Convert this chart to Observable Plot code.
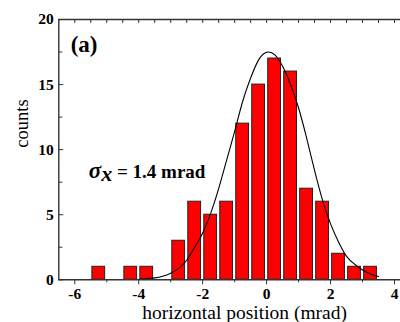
<!DOCTYPE html>
<html>
<head>
<meta charset="utf-8">
<script src="https://cdn.jsdelivr.net/npm/d3@7"></script>
<script src="https://cdn.jsdelivr.net/npm/@observablehq/plot@0.6"></script>
<style>
  html, body { margin: 0; padding: 0; background: #fff; overflow: hidden; }
  svg { display: block; }
  #chart svg, #chart svg text { font-family: "Liberation Serif", Times, "Times New Roman", "DejaVu Serif", serif !important; }
</style>
</head>
<body>
<div id="chart"></div>
<script>
// Histogram bins (bin centers, mrad) and counts
const binCenters = [-5.25,-4.75,-4.25,-3.75,-3.25,-2.75,-2.25,-1.75,-1.25,-0.75,-0.25,0.25,0.75,1.25,1.75,2.25,2.75,3.25];
const counts     = [1,0,1,1,0,3,6,5,6,12,15,17,16,7,6,2,1,1];
const binWidth = 0.5;

// Fitted curve
const curveX = [-4,-3.75,-3.5,-3.25,-3,-2.75,-2.5,-2.25,-2,-1.75,-1.5,-1.25,-1,-0.75,-0.5,-0.25,0,0.25,0.5,0.75,1,1.25,1.5,1.75,2,2.25,2.5,2.75,3,3.25,3.5];
const curveY = [0.03,0.07,0.15,0.28,0.51,0.88,1.5,2.5,3.6,5.1,7.0,9.2,11.4,13.7,15.5,16.9,17.48,17.3,16.4,15.0,13.2,10.9,8.4,6.1,4.3,2.9,1.8,1.2,0.75,0.45,0.25];

// Ticks
const xMajorTicks = [-6,-4,-2,0,2,4];
const xMinorTicks = [-5,-3,-1,1,3];
const xTopTicks = [-6,-5.5,-5,-4.5,-4,-3.5,-3,-2.5,-2,-1.5,-1,-0.5,0,0.5,1,1.5,2,2.5,3,3.5,4];
const yMajorTicks = [0,5,10,15,20];
const yMinorTicks = [2.5,7.5,12.5,17.5];

// Texts
const xLabel = "horizontal position (mrad)";
const yLabel = "counts";
const panelLabel = "(a)";
const panelLabelPos = {x: -6.13, y: 17.5};
const sigmaLabel = "σx = 1.4 mrad";
const sigmaLabelPos = {x: -5.56, y: 7.85};

const bins = binCenters.map((c, i) => ({c, n: counts[i]})).filter(d => d.n > 0);
const curve = curveX.map((x, i) => ({x, y: curveY[i]}));

const axisColor = "#333";
const noLabel = () => "";

const plot = Plot.plot({
  width: 400,
  height: 322,
  marginLeft: 58.3,
  marginRight: 0,
  marginTop: 19,
  marginBottom: 42.7,
  style: {fontSize: "15px", fontWeight: "bold", color: "#000", background: "#fff"},
  x: {domain: [-6.5, 4.1875]},
  y: {domain: [0, 20]},
  marks: [
    Plot.rectY(bins, {x1: d => d.c - binWidth / 2, x2: d => d.c + binWidth / 2, y: "n",
      fill: "#ff0000", stroke: "#222", strokeWidth: 1, insetLeft: 1.6, insetRight: 1.6}),
    Plot.line(curve, {x: "x", y: "y", curve: "natural", stroke: "#000", strokeWidth: 1.1}),
    // frame lines
    Plot.ruleY([0, 20], {stroke: axisColor, strokeWidth: 1.4}),
    Plot.ruleX([-6.5], {stroke: axisColor, strokeWidth: 1.4}),
    // bottom axis
    Plot.axisX({ticks: xMajorTicks, tickSize: 5, tickPadding: 3, stroke: axisColor, label: null,
      tickFormat: d => d, fontSize: 15.5, fontWeight: "bold"}),
    Plot.axisX({ticks: xMinorTicks, tickSize: 3, tickFormat: noLabel, stroke: axisColor, label: null}),
    // top ticks (inward)
    Plot.axisX({anchor: "top", ticks: xTopTicks, tickSize: -3, tickFormat: noLabel, stroke: axisColor, label: null}),
    // left axis ticks inward
    Plot.axisY({ticks: yMajorTicks, tickSize: -5, tickFormat: noLabel, stroke: axisColor, label: null}),
    Plot.axisY({ticks: yMinorTicks, tickSize: -4, tickFormat: noLabel, stroke: axisColor, label: null}),
    Plot.axisY({ticks: yMajorTicks, tickSize: 0, tickPadding: 5, label: null, fontSize: 15.5, fontWeight: "bold"}),
    // axis titles
    Plot.text([yLabel], {frameAnchor: "left", rotate: -90, dx: -37, dy: -2, text: d => d,
      fontSize: 18.5, fontWeight: "normal", fill: "#000"}),
    Plot.text([xLabel], {frameAnchor: "bottom", dx: 15, dy: 39, lineAnchor: "bottom", text: d => d,
      fontSize: 19.5, fontWeight: "normal", fill: "#000"}),
    // annotations
    Plot.text([panelLabel], {x: panelLabelPos.x, y: panelLabelPos.y, text: d => d, textAnchor: "start",
      lineAnchor: "bottom", fontSize: 23, fontWeight: "bold", fill: "#000"}),
    Plot.text([sigmaLabel], {x: sigmaLabelPos.x, y: sigmaLabelPos.y, text: d => d, textAnchor: "start",
      lineAnchor: "bottom", fontSize: 19, fontWeight: "bold", fill: "#000"})
  ]
});

document.getElementById("chart").appendChild(plot);

// Style the sigma label: italic σ and lowered italic x
d3.select(plot).selectAll("text").filter(function() { return this.textContent === sigmaLabel; })
  .each(function() {
    const t = d3.select(this);
    t.text(null);
    t.append("tspan").attr("font-style", "italic").attr("font-size", 23).text("σ");
    t.append("tspan").attr("font-style", "italic").attr("font-size", 22).attr("dy", 3).text("x");
    t.append("tspan").attr("dy", -3).text(" = 1.4 mrad");
  });
</script>
</body>
</html>
